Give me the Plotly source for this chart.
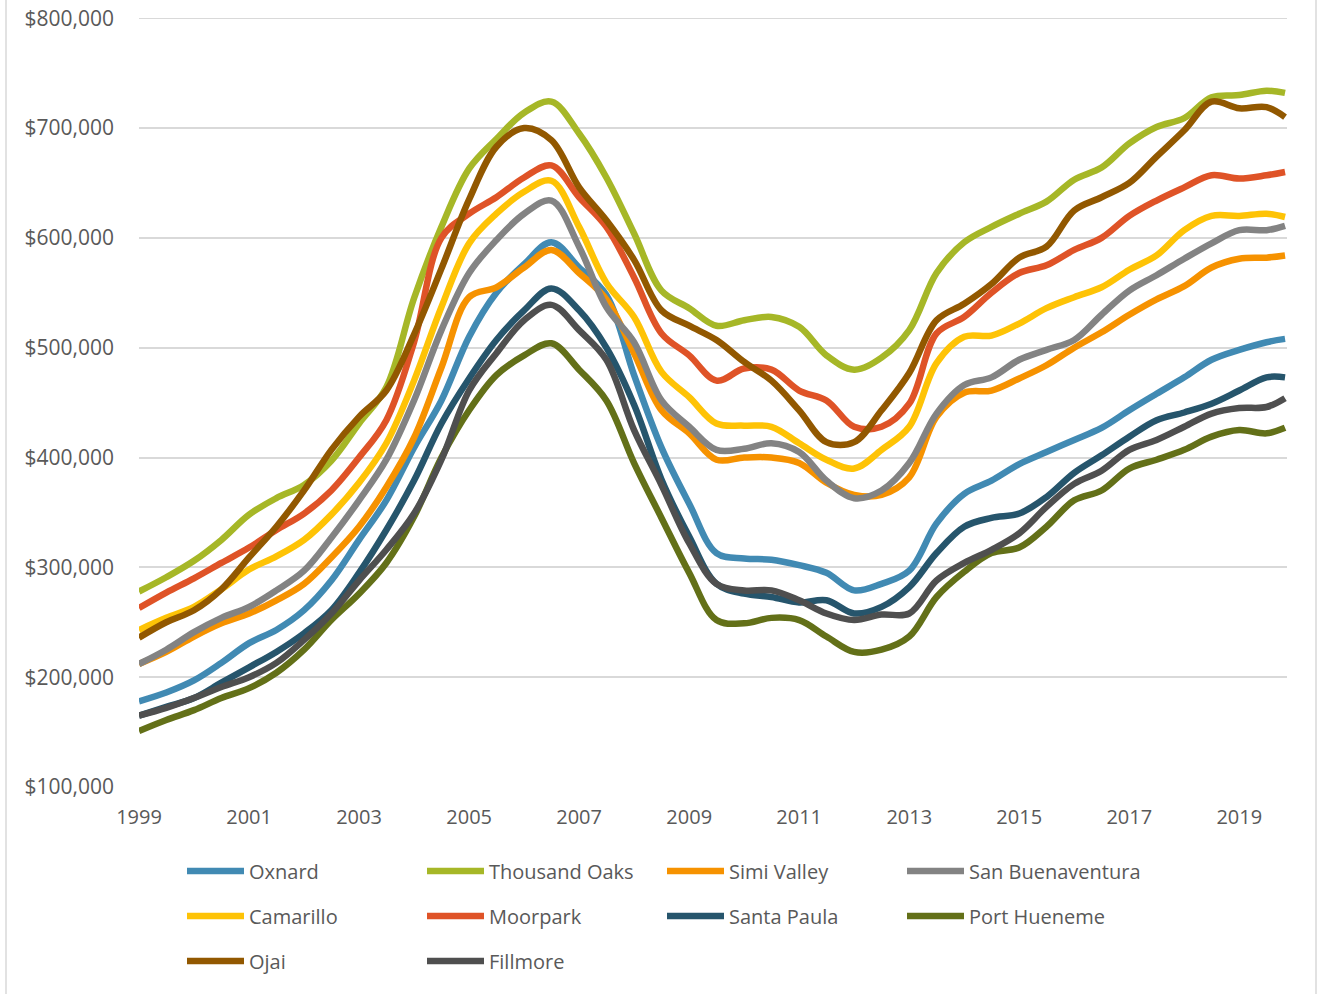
import plotly.graph_objects as go

dates = ["1999-01-01", "1999-07-01", "2000-01-01", "2000-07-01", "2001-01-01", "2001-07-01",
         "2002-01-01", "2002-07-01", "2003-01-01", "2003-07-01", "2004-01-01", "2004-07-01",
         "2005-01-01", "2005-07-01", "2006-01-01", "2006-07-01", "2007-01-01", "2007-07-01",
         "2008-01-01", "2008-07-01", "2009-01-01", "2009-07-01", "2010-01-01", "2010-07-01",
         "2011-01-01", "2011-07-01", "2012-01-01", "2012-07-01", "2013-01-01", "2013-07-01",
         "2014-01-01", "2014-07-01", "2015-01-01", "2015-07-01", "2016-01-01", "2016-07-01",
         "2017-01-01", "2017-07-01", "2018-01-01", "2018-07-01", "2019-01-01", "2019-07-01",
         "2019-11-01"]

oxnard = [178000, 186000, 197000, 213000, 231000, 243000, 261000, 288000, 325000, 361000,
          409000, 452000, 510000, 550000, 576000, 596000, 573000, 548000, 475000, 409000,
          358000, 313000, 308000, 307000, 302000, 295000, 279000, 285000, 297000, 340000,
          367000, 379000, 394000, 405000, 416000, 427000, 443000, 458000, 473000, 489000,
          498000, 505000, 508000]
thousand_oaks = [278000, 291000, 306000, 325000, 348000, 363000, 375000, 397000, 431000, 464000,
                 545000, 610000, 663000, 690000, 714000, 724000, 695000, 655000, 604000, 552000,
                 536000, 520000, 525000, 528000, 519000, 493000, 480000, 491000, 516000, 568000,
                 596000, 610000, 622000, 633000, 653000, 664000, 686000, 701000, 709000, 728000,
                 730000, 734000, 732000]
simi_valley = [212000, 223000, 237000, 249000, 258000, 270000, 285000, 309000, 337000, 373000,
               418000, 482000, 546000, 555000, 573000, 589000, 568000, 544000, 495000, 443000,
               422000, 398000, 400000, 400000, 395000, 377000, 366000, 366000, 382000, 437000,
               459000, 461000, 472000, 484000, 500000, 514000, 530000, 544000, 556000, 573000,
               581000, 582000, 584000]
san_buenaventura = [212000, 225000, 241000, 254000, 264000, 279000, 297000, 327000, 361000, 398000,
                    452000, 516000, 568000, 598000, 622000, 634000, 592000, 537000, 505000, 452000,
                    428000, 407000, 408000, 413000, 405000, 379000, 363000, 370000, 395000, 440000,
                    466000, 473000, 489000, 498000, 507000, 530000, 552000, 566000, 581000, 595000,
                    607000, 607000, 611000]
camarillo = [243000, 254000, 264000, 280000, 298000, 310000, 325000, 348000, 377000, 413000,
             470000, 537000, 595000, 622000, 642000, 652000, 610000, 559000, 528000, 478000,
             455000, 431000, 429000, 428000, 413000, 398000, 390000, 407000, 428000, 486000,
             510000, 511000, 522000, 536000, 546000, 555000, 571000, 584000, 607000, 620000,
             620000, 622000, 619000]
moorpark = [263000, 277000, 290000, 304000, 318000, 334000, 349000, 370000, 400000, 434000,
            505000, 600000, 622000, 637000, 655000, 666000, 637000, 610000, 564000, 513000,
            493000, 470000, 481000, 480000, 461000, 452000, 428000, 428000, 449000, 513000,
            528000, 550000, 568000, 575000, 589000, 600000, 620000, 634000, 646000, 657000,
            654000, 657000, 660000]
santa_paula = [165000, 173000, 181000, 195000, 209000, 223000, 240000, 261000, 295000, 334000,
               379000, 431000, 472000, 507000, 534000, 554000, 534000, 500000, 448000, 380000,
               328000, 285000, 276000, 273000, 268000, 270000, 258000, 264000, 282000, 313000,
               337000, 345000, 349000, 364000, 386000, 402000, 419000, 434000, 441000, 449000,
               461000, 473000, 473000]
port_hueneme = [151000, 161000, 170000, 181000, 190000, 204000, 225000, 252000, 276000, 304000,
                346000, 400000, 443000, 475000, 493000, 504000, 480000, 452000, 395000, 345000,
                295000, 252000, 249000, 254000, 252000, 237000, 223000, 225000, 237000, 273000,
                296000, 313000, 318000, 337000, 361000, 370000, 390000, 398000, 407000, 419000,
                425000, 422000, 427000]
ojai = [236000, 250000, 261000, 280000, 309000, 337000, 370000, 407000, 437000, 461000,
        512000, 572000, 635000, 683000, 700000, 689000, 646000, 616000, 580000, 534000,
        520000, 507000, 487000, 470000, 443000, 414000, 414000, 443000, 477000, 525000,
        540000, 558000, 582000, 592000, 625000, 637000, 650000, 674000, 698000, 724000,
        718000, 719000, 710000]
fillmore = [165000, 172000, 181000, 191000, 200000, 213000, 234000, 258000, 288000, 316000,
            349000, 398000, 461000, 495000, 525000, 539000, 516000, 489000, 425000, 375000,
            322000, 285000, 279000, 279000, 270000, 258000, 252000, 257000, 258000, 288000,
            304000, 316000, 331000, 355000, 376000, 388000, 407000, 416000, 428000, 440000,
            445000, 446000, 454000]

y_ticks = [100000, 200000, 300000, 400000, 500000, 600000, 700000, 800000]
x_ticks = ["1999-01-01", "2001-01-01", "2003-01-01", "2005-01-01", "2007-01-01",
           "2009-01-01", "2011-01-01", "2013-01-01", "2015-01-01", "2017-01-01",
           "2019-01-01"]
x_tick_labels = ["1999", "2001", "2003", "2005", "2007", "2009", "2011", "2013", "2015",
                 "2017", "2019"]

series = [
    ("Oxnard", oxnard, "#418AB3", "legend"),
    ("Thousand Oaks", thousand_oaks, "#A6B727", "legend"),
    ("Simi Valley", simi_valley, "#F69200", "legend"),
    ("San Buenaventura", san_buenaventura, "#838383", "legend"),
    ("Camarillo", camarillo, "#FEC306", "legend2"),
    ("Moorpark", moorpark, "#DF5327", "legend2"),
    ("Santa Paula", santa_paula, "#26556C", "legend2"),
    ("Port Hueneme", port_hueneme, "#637018", "legend2"),
    ("Ojai", ojai, "#925800", "legend3"),
    ("Fillmore", fillmore, "#4F4F4F", "legend3"),
]

fig = go.Figure()
for name, vals, color, lg in series:
    fig.add_trace(go.Scatter(
        x=dates, y=vals, name=name, mode="lines",
        line=dict(color=color, width=6.5, shape="spline", smoothing=1.0),
        legend=lg,
    ))

font_family = "Open Sans, sans-serif"
txt = "#595959"

W, H = 1324, 994
L, R, T, B = 139, 37, 18, 207
plot_w = W - L - R
plot_h = H - T - B

def px_to_paper_x(px):
    return (px - L) / plot_w

def px_to_paper_y(py):
    return (H - B - py) / plot_h

legend_common = dict(
    orientation="h",
    xanchor="left", yanchor="middle",
    font=dict(family=font_family, size=20, color=txt),
    entrywidth=168, entrywidthmode="pixels",
    itemwidth=57,
    bgcolor="rgba(0,0,0,0)",
    traceorder="normal",
)

fig.update_layout(
    width=W, height=H,
    margin=dict(l=L, r=R, t=T, b=B, autoexpand=False),
    paper_bgcolor="white", plot_bgcolor="white",
    font=dict(family=font_family, size=20, color=txt),
    showlegend=True,
    legend=dict(x=px_to_paper_x(182), y=px_to_paper_y(871), **legend_common),
    legend2=dict(x=px_to_paper_x(182), y=px_to_paper_y(916), **legend_common),
    legend3=dict(x=px_to_paper_x(182), y=px_to_paper_y(961), **legend_common),
    xaxis=dict(
        type="date",
        range=["1999-01-01", "2019-11-14"],
        tickvals=x_ticks, ticktext=x_tick_labels,
        showgrid=False, zeroline=False, showline=False, ticks="",
        tickfont=dict(family=font_family, size=20, color=txt),
        ticklabelstandoff=16, automargin=False,
    ),
    yaxis=dict(
        range=[100000, 800200],
        tickvals=y_ticks,
        tickformat="$,.0f",
        showgrid=True, gridcolor="#D9D9D9", gridwidth=1.5,
        zeroline=False, showline=False, ticks="",
        tickfont=dict(family=font_family, size=21, color=txt),
        ticklabelstandoff=24, automargin=False,
        ticklabeloverflow="allow",
    ),
    shapes=[
        dict(type="line", xref="paper", yref="y", layer="below",
             x0=0, x1=1, y0=y_ticks[-1], y1=y_ticks[-1],
             line=dict(color="#D9D9D9", width=1.5)),
        dict(type="line", xref="paper", yref="paper",
             x0=px_to_paper_x(6), x1=px_to_paper_x(6),
             y0=px_to_paper_y(0), y1=px_to_paper_y(994),
             line=dict(color="#D9D9D9", width=1.5)),
        dict(type="line", xref="paper", yref="paper",
             x0=px_to_paper_x(1316), x1=px_to_paper_x(1316),
             y0=px_to_paper_y(0), y1=px_to_paper_y(994),
             line=dict(color="#D9D9D9", width=1.5)),
    ],
)

fig.write_html("out.html", config={"displayModeBar": False},
               post_script="document.body.style.margin='0';")
